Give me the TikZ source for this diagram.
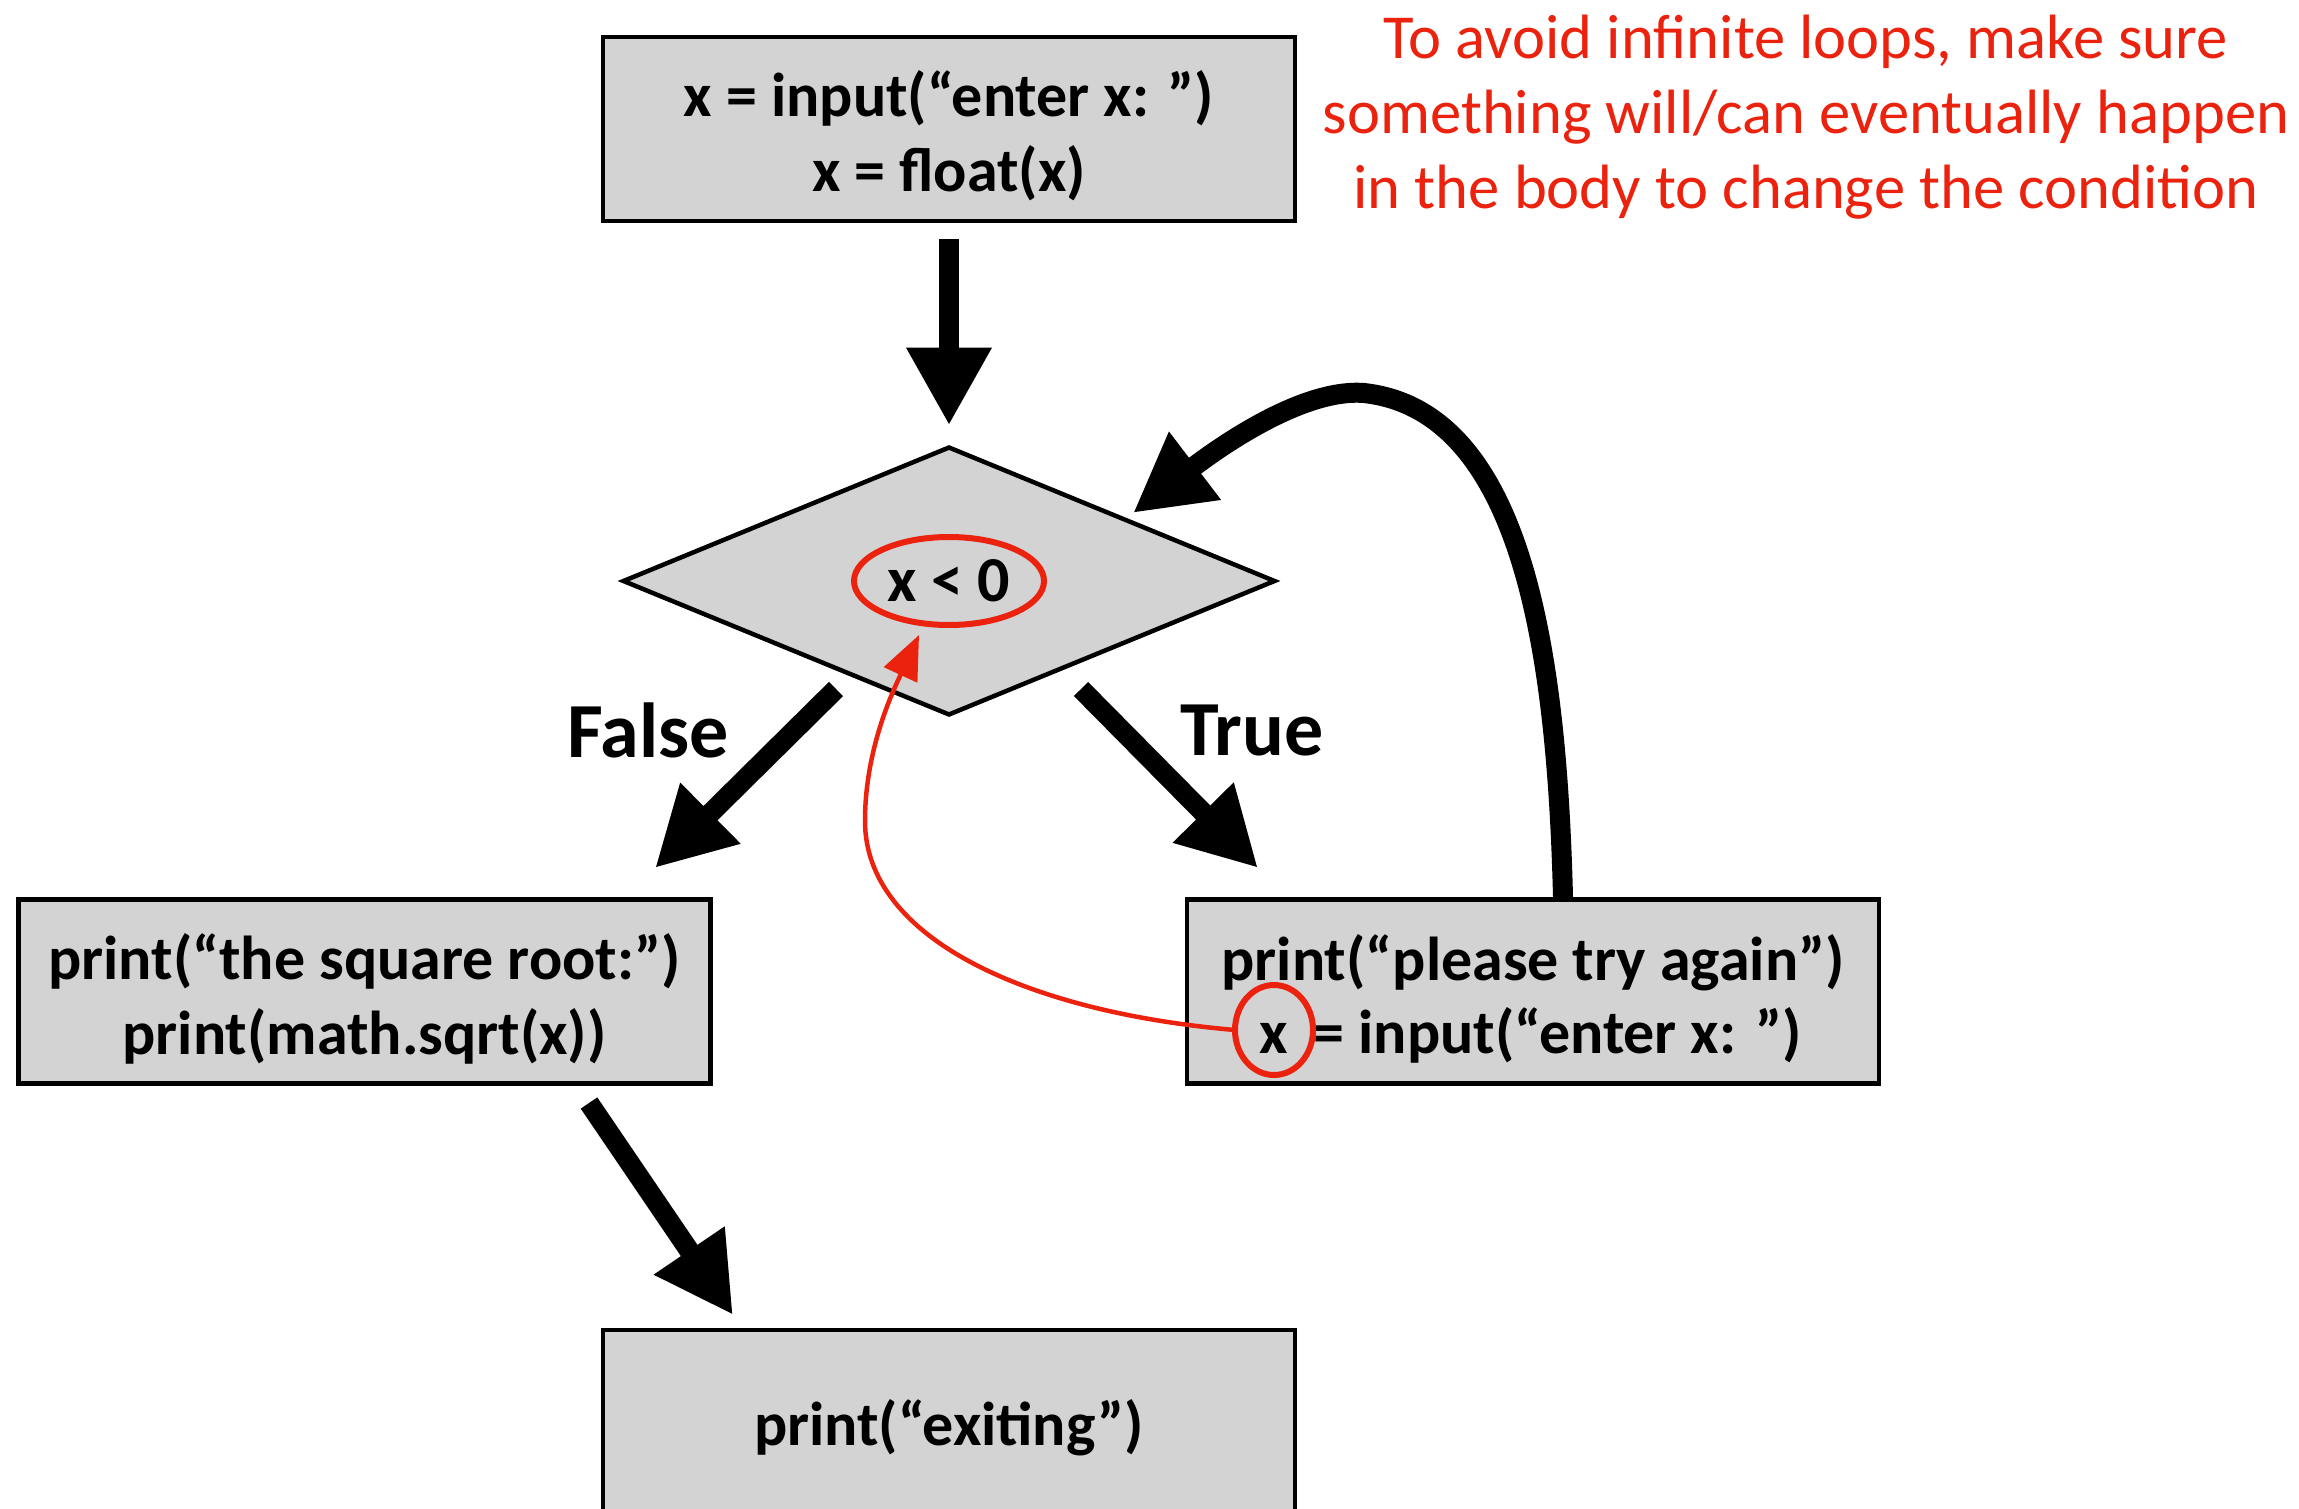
\documentclass[tikz,border=0pt]{standalone}
\usepackage{fontspec}
\setmainfont{Carlito}
\usetikzlibrary{arrows.meta,shapes.geometric}
\definecolor{boxgray}{RGB}{211,211,211}
\definecolor{redline}{RGB}{235,34,14}
\newcommand\bxfont{\fontsize{62}{75}\selectfont\bfseries}
\newcommand\lblfont{\fontsize{78}{90}\selectfont\bfseries}
\newcommand\notefont{\fontsize{62.6}{75}\selectfont}
\begin{document}
\begin{tikzpicture}[x=1pt,y=-1pt,
  box/.style={draw=black, line width=4.5pt, fill=boxgray, minimum width=692pt,
    minimum height=184pt, inner sep=0pt, outer sep=0pt},
  boxtext/.style={font=\bxfont, align=center, inner sep=0pt},
  bigarrow/.style={line width=20pt, -{Triangle[length=78pt,width=80pt]}},
  redring/.style={draw=redline, line width=6pt, ellipse, inner sep=0pt, outer sep=0pt},
  redarrow/.style={draw=redline, line width=4.5pt, -{Triangle[length=44pt,width=36pt]}},
  lbl/.style={font=\lblfont, inner sep=0pt}]
\clip (0,0) rectangle (2299,1509);
\fill[white] (0,0) rectangle (2299,1509);

% boxes
\node[box] (top) at (949,129) {};
\node[boxtext] (topt) at (949,136) {x = input(“enter x: ”)\\x = float(x)};
\node[diamond, draw=black, line width=4.5pt, fill=boxgray, minimum width=651pt,
  minimum height=267pt, inner sep=0pt, outer sep=0pt, font=\fontsize{64}{75}\selectfont\bfseries] (cond) at (949,581) {x < 0};
\node[redring, minimum width=190pt, minimum height=88pt] (ring) at (cond.center) {};
\node[box] (sq) at (364.5,991.5) {};
\node[boxtext] (sqt) at (364.5,998.5) {print(“the square root:”)\\print(math.sqrt(x))};
\node[box] (again) at (1533,991.5) {};
\node[boxtext] (l1) at (1533,963) {print(“please try again”)};
\node[boxtext] (xr) at (1274,1038) {x};
\node[boxtext, anchor=base west] (l2) at ([xshift=25pt]xr.base east) {= input(“enter x: ”)};
\node[redring, minimum width=78pt, minimum height=90pt] (xring) at ([yshift=8pt]xr.center) {};
\node[box, minimum height=190pt] (exit) at (949,1425) {};
\node[boxtext] (exitt) at (949,1428) {print(“exiting”)};

% labels
\node[lbl] (fl) at (648,730) {False};
\node[lbl] (tl) at (1252,730) {True};
\node[text=redline, font=\notefont, align=center, inner sep=0pt] (note) at (1806,117)
  {To avoid infinite loops, make sure\\something will/can eventually happen\\in the body to change the condition};

% connectors
\draw[bigarrow, shorten <=18pt, shorten >=22pt] (top.south) -- (cond.north);
\coordinate (f1) at (836,689); \coordinate (f2) at (655,868);
\draw[bigarrow] (f1) -- (f2);
\coordinate (t1) at (1081,689); \coordinate (t2) at (1258,868);
\draw[bigarrow] (t1) -- (t2);
\coordinate (b1) at (589,1103); \coordinate (b2) at (733,1315);
\draw[bigarrow] (b1) -- (b2);
\coordinate (ls) at (1563,897); \coordinate (lt) at (1133,513);
\draw[bigarrow] (ls) .. controls (1557,660) and (1525,411) .. (1364,393)
  .. controls (1300,388) and (1213,452) .. (lt);
\coordinate (rt) at (919,635);
\draw[redarrow] (xring.west) .. controls (1026,1012) and (865,938) .. (865,821)
  .. controls (865,748) and (894,689) .. (rt);
\end{tikzpicture}
\end{document}
